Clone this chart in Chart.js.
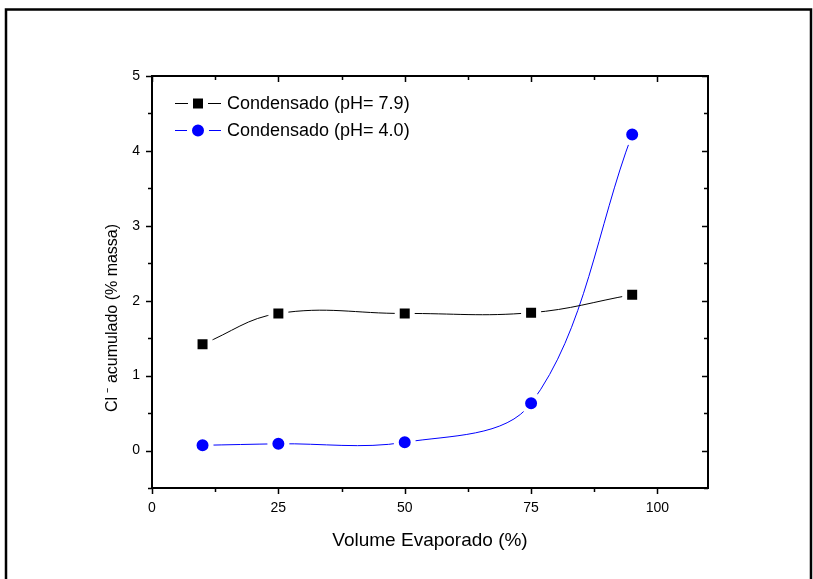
<!DOCTYPE html>
<html><head><meta charset="utf-8">
<script src="https://cdn.jsdelivr.net/npm/chart.js@4"></script>
<style>html,body{margin:0;padding:0;background:#fff;}canvas{display:block;}</style>
</head><body>
<canvas id="c" width="813" height="579"></canvas>
<script>
const volumeEvaporado = [10, 25, 50, 75, 95];
const clPH79 = [1.42, 1.83, 1.83, 1.84, 2.08];
const clPH40 = [0.07, 0.09, 0.11, 0.63, 4.22];
const seriesLabels = ['Condensado (pH= 7.9)', 'Condensado (pH= 4.0)'];
const seriesColors = ['#000000', '#0000ff'];
const seriesShapes = ['rect', 'circle'];
const xTickLabels = [0, 25, 50, 75, 100];
const yTickLabels = [0, 1, 2, 3, 4, 5];
const xTitle = 'Volume Evaporado (%)';
const yTitle = 'Cl \u207B acumulado (% massa)';

const FONT = "'Liberation Sans', Arial, Helvetica, sans-serif";

function toPoints(xs, ys) { return xs.map((x, i) => ({ x: x, y: ys[i] })); }

const decorPlugin = {
  id: 'decor',
  afterDraw(chart) {
    const ctx = chart.ctx;
    const a = chart.chartArea;
    const xs = chart.scales.x, ys = chart.scales.y;
    ctx.save();
    // outer frame
    ctx.strokeStyle = '#000';
    ctx.lineWidth = 2.5;
    ctx.beginPath();
    ctx.moveTo(6, 579); ctx.lineTo(6, 9.5); ctx.lineTo(811, 9.5); ctx.lineTo(811, 579);
    ctx.stroke();
    // plot box
    ctx.lineWidth = 2;
    ctx.strokeRect(a.left, a.top, a.right - a.left, a.bottom - a.top);
    // ticks
    ctx.lineWidth = 1.5;
    ctx.beginPath();
    for (let v = 0; v <= 110; v += 12.5) {
      const px = Math.round(xs.getPixelForValue(v)) + 0.5;
      const len = (v % 25 === 0) ? 6 : 4;
      ctx.moveTo(px, a.bottom); ctx.lineTo(px, a.bottom + len);
      ctx.moveTo(px, a.top); ctx.lineTo(px, a.top + len);
    }
    for (let v = -0.5; v <= 5; v += 0.5) {
      const py = Math.round(ys.getPixelForValue(v)) + 0.5;
      const len = (Math.abs(v % 1) < 1e-9) ? 6 : 4;
      ctx.moveTo(a.left, py); ctx.lineTo(a.left - len, py);
      ctx.moveTo(a.right, py); ctx.lineTo(a.right - len, py);
    }
    ctx.stroke();
    // y title
    ctx.fillStyle = '#000';
    ctx.font = '16px ' + FONT;
    ctx.textAlign = 'center';
    ctx.textBaseline = 'middle';
    ctx.translate(113, 318);
    ctx.rotate(-Math.PI / 2);
    ctx.fillText(yTitle, 0, 0);
    ctx.restore();

    // legend
    ctx.save();
    const rows = [103, 130];
    chart.data.datasets.forEach((ds, i) => {
      const y = rows[i] + 0.5;
      ctx.strokeStyle = ds.borderColor;
      ctx.lineWidth = 1;
      ctx.beginPath();
      ctx.moveTo(175, y); ctx.lineTo(221, y);
      ctx.stroke();
      ctx.fillStyle = ds.pointBackgroundColor;
      ctx.strokeStyle = '#fff';
      ctx.lineWidth = ds.pointBorderWidth;
      ctx.beginPath();
      if (ds.pointStyle === 'rect') {
        const s = Math.SQRT1_2 * ds.pointRadius;
        ctx.rect(198 - s, y - s, 2 * s, 2 * s);
      } else {
        ctx.arc(198, y, ds.pointRadius, 0, Math.PI * 2);
      }
      ctx.fill(); ctx.stroke();
      ctx.fillStyle = '#000';
      ctx.font = '18px ' + FONT;
      ctx.textAlign = 'left';
      ctx.textBaseline = 'middle';
      ctx.fillText(ds.label, 227, y + 0.5);
    });
    ctx.restore();
  }
};

function makeDataset(i, ys) {
  const isRect = seriesShapes[i] === 'rect';
  return {
    label: seriesLabels[i],
    data: toPoints(volumeEvaporado, ys),
    borderColor: seriesColors[i],
    backgroundColor: seriesColors[i],
    borderWidth: 1,
    tension: isRect ? 0.4 : 0.35,
    pointStyle: seriesShapes[i],
    pointRadius: isRect ? 10.6 : 8.5,
    pointBorderWidth: 5,
    pointBackgroundColor: seriesColors[i],
    pointBorderColor: '#ffffff',
    pointHoverRadius: isRect ? 10.6 : 8.5
  };
}

new Chart(document.getElementById('c'), {
  type: 'line',
  data: { datasets: [makeDataset(0, clPH79), makeDataset(1, clPH40)] },
  options: {
    responsive: false,
    animation: false,
    devicePixelRatio: 1,
    events: [],
    layout: { padding: { top: 76, right: 105, left: 0, bottom: 0 } },
    plugins: { legend: { display: false }, tooltip: { enabled: false } },
    scales: {
      x: {
        type: 'linear', min: 0, max: 110,
        afterBuildTicks: s => { s.ticks = xTickLabels.map(v => ({ value: v })); },
        afterFit: s => { s.height = 91; },
        grid: { display: false, drawTicks: false },
        border: { display: false },
        ticks: { padding: 12, color: '#000', font: { family: FONT, size: 14 }, maxRotation: 0 },
        title: { display: true, text: xTitle, color: '#000', font: { family: FONT, size: 19 }, padding: { top: 0, bottom: 27 } }
      },
      y: {
        type: 'linear', min: -0.5, max: 5,
        afterBuildTicks: s => { s.ticks = yTickLabels.map(v => ({ value: v })); },
        afterFit: s => { s.width = 152; },
        grid: { display: false, drawTicks: false },
        border: { display: false },
        ticks: { padding: 12, color: '#000', font: { family: FONT, size: 14 } }
      }
    }
  },
  plugins: [decorPlugin]
});
</script>
</body></html>
